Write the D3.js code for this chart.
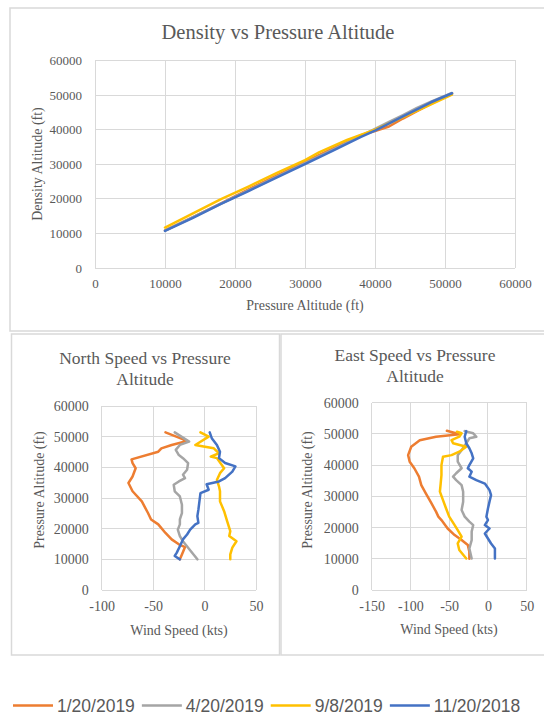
<!DOCTYPE html>
<html>
<head>
<meta charset="utf-8">
<title>Density and wind vs pressure altitude</title>
<style>
  body { margin: 0; background: #fff; }
  text { font-family: "Liberation Serif", "Times New Roman", serif; fill: #595959; }
  .grid line { stroke: #d9d9d9; stroke-width: 1px; shape-rendering: crispEdges; }
  .frame { fill: none; stroke: #d9d9d9; stroke-width: 1.5px; }
  .series { fill: none; stroke-width: 2.5px; stroke-linejoin: round; stroke-linecap: round; }
  .legend text { font-family: "Liberation Sans", Arial, sans-serif; font-size: 17.5px; }
</style>
</head>
<body>
<script src="https://cdn.jsdelivr.net/npm/d3@7"></script>
<script>

// series
var seriesNames = ["1/20/2019", "4/20/2019", "9/8/2019", "11/20/2018"];
var seriesColors = ["#ed7d31", "#a5a5a5", "#ffc000", "#4472c4"];

// density altitude vs pressure altitude: [pressure ft, density ft]
var dens_jan = [[10000,10900],[14000,14700],[18000,18700],[22000,22800],[26000,26800],[30000,30700],[34000,34600],[38000,38400],[40000,39600],[42000,40900],[44000,43200],[46000,45300],[48000,47400],[51000,50400]];
var dens_apr = [[10000,10800],[14000,14700],[18000,18600],[22000,22500],[26000,26400],[30000,30300],[34000,34200],[38000,38200],[40000,40200],[42000,42200],[44000,44200],[46000,46300],[48000,48100],[51000,50600]];
var dens_sep = [[10000,11700],[14000,15800],[18000,19900],[22000,23600],[26000,27500],[30000,31200],[32000,33400],[36000,37000],[40000,40000],[44000,43600],[48000,47300],[51000,50100]];
var dens_nov = [[10000,10700],[14000,14500],[18000,18500],[22000,22300],[26000,26200],[30000,30000],[34000,33900],[38000,37900],[40000,39700],[44000,43800],[48000,47900],[51000,50500]];

// north wind speed: [kts, pressure ft]
var north_jan = [[-38,51400],[-17,48600],[-32,47300],[-42,46200],[-45,45100],[-71,42600],[-70,41400],[-67,39700],[-70,37000],[-74,34900],[-70,32200],[-61,28900],[-55,25100],[-52,23000],[-45,21400],[-38,18600],[-32,16500],[-25,14900],[-19,14000],[-22,11600],[-24,10000]];
var north_apr = [[-29,51400],[-15,48400],[-24,47300],[-28,45700],[-25,44000],[-21,43000],[-16,41400],[-17,39200],[-21,37600],[-19,36500],[-25,35400],[-30,34300],[-29,32200],[-24,30500],[-22,27800],[-22,25100],[-24,23000],[-24,21400],[-26,19700],[-24,17600],[-21,15900],[-16,13800],[-7,10000]];
var north_sep = [[-4,51400],[4,50000],[-9,47300],[-1,46800],[9,46200],[14,44600],[6,43500],[12,43000],[19,39700],[15,38100],[12,35900],[14,33800],[15,32200],[15,28900],[19,25700],[22,22400],[25,19200],[24,17600],[31,15900],[27,13800],[25,11600],[25,10000]];
var north_nov = [[5,51400],[7,49500],[12,47300],[15,45100],[14,43000],[20,41400],[30,40300],[27,38600],[20,36500],[14,35400],[2,34500],[4,32700],[-4,31600],[-5,28900],[-6,26200],[-7,24100],[-6,21900],[-9,21400],[-14,19700],[-17,18100],[-21,16500],[-24,14300],[-27,12200],[-29,11100],[-24,10000]];

// east wind speed: [kts, pressure ft]
var east_jan = [[-53,51000],[-37,49900],[-67,49100],[-88,48000],[-99,45900],[-103,43200],[-101,41100],[-95,39000],[-89,36300],[-86,33600],[-80,30900],[-73,27800],[-67,25100],[-64,23500],[-60,22400],[-52,19700],[-43,17600],[-34,16000],[-26,14400],[-24,12300],[-24,10000]];
var east_apr = [[-30,50900],[-19,50200],[-15,49100],[-24,48600],[-28,47000],[-34,44800],[-39,43200],[-39,41100],[-34,39000],[-41,37400],[-45,36300],[-41,35200],[-34,33600],[-32,31500],[-32,28300],[-34,25600],[-30,23500],[-24,21900],[-19,20800],[-21,18700],[-21,16000],[-24,13300],[-21,10100]];
var east_sep = [[-40,50700],[-34,50200],[-37,49100],[-47,48000],[-45,47000],[-28,45900],[-37,44300],[-47,43200],[-58,42700],[-60,40000],[-60,36800],[-61,34100],[-62,31500],[-58,28800],[-54,26100],[-50,23500],[-43,20800],[-39,19200],[-34,17100],[-39,14900],[-37,12800],[-28,10100]];
var east_nov = [[-28,50900],[-30,49100],[-28,47000],[-24,45400],[-21,43800],[-19,42200],[-24,40000],[-26,39000],[-21,37900],[-24,36300],[-15,35200],[-4,34100],[2,32000],[4,30400],[2,28300],[0,26100],[-2,23500],[0,22400],[-4,20800],[2,19700],[-4,18100],[0,16500],[4,14900],[9,13300],[9,10100]];

// ticks
var altTicks = [0, 10000, 20000, 30000, 40000, 50000, 60000];
var northTicks = [-100, -50, 0, 50];
var eastTicks = [-150, -100, -50, 0, 50];

var svg = d3.select("body").append("svg")
    .attr("width", 544)
    .attr("height", 715);

// chart boxes
svg.append("rect").attr("class", "frame").attr("x", 10).attr("y", 8).attr("width", 560).attr("height", 323);
svg.append("rect").attr("class", "frame").attr("x", 11.5).attr("y", 334).attr("width", 268).attr("height", 321);
svg.append("rect").attr("class", "frame").attr("x", 281).attr("y", 334).attr("width", 300).attr("height", 321);

// plain hyphen minus, like the spreadsheet labels
var plain = function (d) { return String(d); };

function drawChart(o) {
    var x = d3.scaleLinear().domain(o.xDomain).range(o.xRange);
    var y = d3.scaleLinear().domain([0, 60000]).range(o.yRange);
    var g = svg.append("g");

    // gridlines
    g.append("g").attr("class", "grid")
        .selectAll("line").data(o.xTicks).enter().append("line")
        .attr("x1", function (d) { return x(d); }).attr("x2", function (d) { return x(d); })
        .attr("y1", o.yRange[0]).attr("y2", o.yRange[1]);
    g.append("g").attr("class", "grid")
        .selectAll("line").data(altTicks).enter().append("line")
        .attr("x1", o.xRange[0]).attr("x2", o.xRange[1])
        .attr("y1", function (d) { return y(d); }).attr("y2", function (d) { return y(d); });

    // axes (labels only, lines come from the grid)
    var xAxis = g.append("g")
        .attr("transform", "translate(0," + o.yRange[0] + ")")
        .call(d3.axisBottom(x).tickValues(o.xTicks).tickSize(0).tickPadding(o.xPad).tickFormat(plain));
    var yAxis = g.append("g")
        .attr("transform", "translate(" + o.xRange[0] + ",0)")
        .call(d3.axisLeft(y).tickValues(altTicks).tickSize(0).tickPadding(o.yPad).tickFormat(plain));
    [xAxis, yAxis].forEach(function (a) {
        a.select(".domain").remove();
        a.selectAll("text")
            .style("font-family", "'Liberation Serif', 'Times New Roman', serif")
            .style("font-size", o.tickSize + "px")
            .attr("fill", "#595959");
    });

    // titles
    var title = g.append("text")
        .attr("text-anchor", "middle")
        .style("font-size", o.titleSize + "px");
    o.title.forEach(function (t, i) {
        title.append("tspan").attr("x", o.titleX).attr("y", o.titleY + i * o.titleLead).text(t);
    });
    g.append("text")
        .attr("text-anchor", "middle")
        .attr("x", o.xTitle[0]).attr("y", o.xTitle[1])
        .style("font-size", o.labelSize + "px")
        .text(o.xLabel);
    g.append("text")
        .attr("text-anchor", "middle")
        .attr("transform", "translate(" + o.yTitle[0] + "," + o.yTitle[1] + ") rotate(-90)")
        .style("font-size", o.labelSize + "px")
        .text(o.yLabel);

    // series lines
    var line = d3.line()
        .x(function (d) { return x(d[0]); })
        .y(function (d) { return y(d[1]); });
    o.series.forEach(function (s, i) {
        g.append("path")
            .attr("class", "series")
            .attr("d", line(s))
            .style("stroke", seriesColors[i]);
    });
}

drawChart({
    xDomain: [0, 60000], xRange: [95, 515], yRange: [268, 60.4], xTicks: altTicks,
    xPad: 11, yPad: 13, tickSize: 13,
    title: ["Density  vs Pressure Altitude"], titleX: 278, titleY: 39, titleLead: 0, titleSize: 20.5,
    xLabel: "Pressure Altitude (ft)", xTitle: [305, 310],
    yLabel: "Density Altitude (ft)", yTitle: [42, 164], labelSize: 14,
    series: [dens_jan, dens_apr, dens_sep, dens_nov]
});

drawChart({
    xDomain: [-100, 50], xRange: [101.7, 256], yRange: [590, 406], xTicks: northTicks,
    xPad: 11, yPad: 13, tickSize: 14,
    title: ["North Speed vs Pressure", "Altitude"], titleX: 145, titleY: 364, titleLead: 20.5, titleSize: 17.5,
    xLabel: "Wind Speed (kts)", xTitle: [179, 635],
    yLabel: "Pressure Altitude (ft)", yTitle: [44, 490], labelSize: 14,
    series: [north_jan, north_apr, north_sep, north_nov]
});

drawChart({
    xDomain: [-150, 50], xRange: [371.7, 526.7], yRange: [590, 402.7], xTicks: eastTicks,
    xPad: 11, yPad: 13, tickSize: 14,
    title: ["East Speed vs Pressure", "Altitude"], titleX: 415, titleY: 361, titleLead: 20.5, titleSize: 17.5,
    xLabel: "Wind Speed (kts)", xTitle: [449, 634],
    yLabel: "Pressure Altitude (ft)", yTitle: [311.5, 490], labelSize: 14,
    series: [east_jan, east_apr, east_sep, east_nov]
});

// legend
var legend = svg.append("g").attr("class", "legend");
var lx = 13, ly = 705.5;
seriesNames.forEach(function (name, i) {
    legend.append("line")
        .attr("x1", lx).attr("x2", lx + 40)
        .attr("y1", ly).attr("y2", ly)
        .style("stroke", seriesColors[i])
        .style("stroke-width", "2.5px");
    var t = legend.append("text")
        .attr("x", lx + 44).attr("y", ly)
        .attr("dy", "0.35em")
        .text(name);
    lx += 44 + t.node().getComputedTextLength() + 7;
});

</script>
</body>
</html>
